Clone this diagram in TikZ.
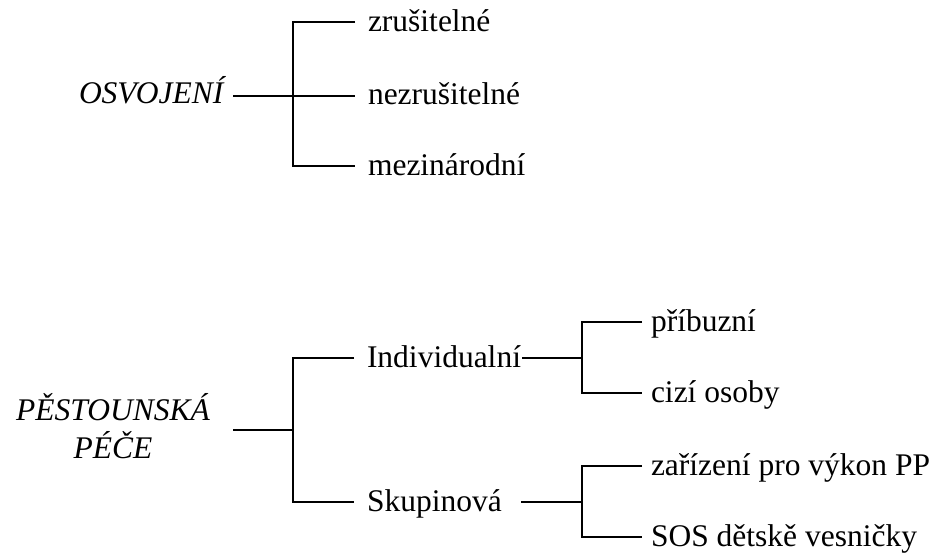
\documentclass[tikz,border=0pt]{standalone}
\usepackage{fontspec}
\setmainfont{Liberation Serif}
\begin{document}
\begin{tikzpicture}[x=0.5pt,y=-0.5pt,line width=1pt,
  lbl/.style={anchor=base west,inner sep=0pt,font=\fontsize{15.75}{19}\selectfont},
  rootlbl/.style={anchor=base,inner sep=0pt,font=\fontsize{15.75}{19}\selectfont\itshape}]
\useasboundingbox (0,0) rectangle (940,558);
% ---- OSVOJENI ----
\node[rootlbl,anchor=base west] (osv) at (78,103) {OSVOJENÍ};
\coordinate (o0) at (233,96);
\coordinate (oT) at (293,22);
\coordinate (oM) at (293,96);
\coordinate (oB) at (293,166);
\node[lbl] (z1) at (367,31) {zrušitelné};
\node[lbl] (z2) at (367,104) {nezrušitelné};
\node[lbl] (z3) at (367,175) {mezinárodní};
\coordinate (e1) at (355,22);
\coordinate (e2) at (355,96);
\coordinate (e3) at (355,166);
\draw (o0) -- (e2);
\draw (e1) -- (oT) -- (oB) -- (e3);
% ---- PESTOUNSKA PECE ----
\node[rootlbl] (ps1) at (113,420) {PĚSTOUNSKÁ};
\node[rootlbl] (ps2) at (113,458) {PÉČE};
\coordinate (p0) at (233,430);
\coordinate (pM) at (293,430);
\coordinate (pT) at (293,358);
\coordinate (pB) at (293,502);
\coordinate (f1) at (354,358);
\coordinate (f2) at (354,502);
\draw (p0) -- (pM);
\draw (f1) -- (pT) -- (pB) -- (f2);
\node[lbl] (ind) at (366,367) {Individualní};
\node[lbl] (sku) at (366,511) {Skupinová};
% Individualni bracket
\coordinate (i0) at (522,358);
\coordinate (iM) at (582,358);
\coordinate (iT) at (582,322);
\coordinate (iB) at (582,393);
\coordinate (g1) at (642,322);
\coordinate (g2) at (642,393);
\draw (i0) -- (iM);
\draw (g1) -- (iT) -- (iB) -- (g2);
\node[lbl] (pri) at (650,331) {příbuzní};
\node[lbl] (cizi) at (650,402) {cizí osoby};
% Skupinova bracket
\coordinate (s0) at (521,502);
\coordinate (sM) at (582,502);
\coordinate (sT) at (582,466);
\coordinate (sB) at (582,537);
\coordinate (h1) at (642,466);
\coordinate (h2) at (642,537);
\draw (s0) -- (sM);
\draw (h1) -- (sT) -- (sB) -- (h2);
\node[lbl] (zar) at (650,475) {zařízení pro výkon PP};
\node[lbl] (sos) at (650,546) {SOS dětskě vesničky};
\end{tikzpicture}
\end{document}
